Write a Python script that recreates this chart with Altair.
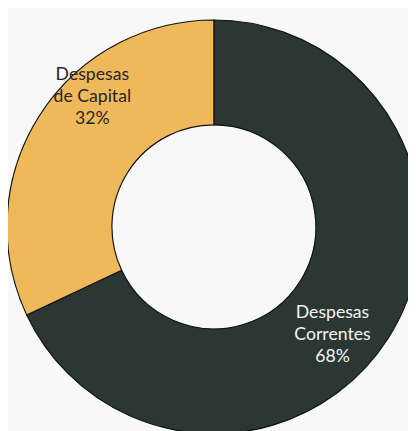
import altair as alt
import pandas as pd

categories = ["Despesas Correntes", "Despesas de Capital"]
label_lines = ["Despesas\nCorrentes", "Despesas\nde Capital"]
shares = [68, 32]
colors = ["#2a3733", "#efb95b"]

df = pd.DataFrame({
    "category": categories,
    "share": shares,
    "order": [0, 1],
    "label": [f"{l}\n{s}%" for l, s in zip(label_lines, shares)],
})

CX, CY = 210, 219

base = alt.Chart(df)

arcs = base.mark_arc(outerRadius=211, innerRadius=104, stroke="#111111", strokeWidth=1.2).encode(
    theta=alt.Theta("share:Q", stack=True),
    order=alt.Order("order:Q"),
    color=alt.Color("category:N", scale=alt.Scale(domain=categories, range=colors), legend=None),
    x=alt.value(CX),
    y=alt.value(CY),
)

txt_common = dict(lineBreak="\n", font="Lato", fontSize=18, align="center", baseline="middle", lineHeight=22.5)

lab1 = base.transform_filter(alt.datum.category == categories[0]).mark_text(color="#f4f4f4", **txt_common).encode(
    text="label:N", x=alt.value(331), y=alt.value(307)
)
lab2 = base.transform_filter(alt.datum.category == categories[1]).mark_text(color="#262626", **txt_common).encode(
    text="label:N", x=alt.value(86), y=alt.value(64)
)

chart = alt.layer(arcs, lab1, lab2).properties(
    width=408, height=423, padding=0,
    autosize=alt.AutoSizeParams(type="none"),
    background="#f8f8f8",
).configure_view(stroke=None)

chart.save("out.html", embed_options={"renderer": "svg", "actions": False})
